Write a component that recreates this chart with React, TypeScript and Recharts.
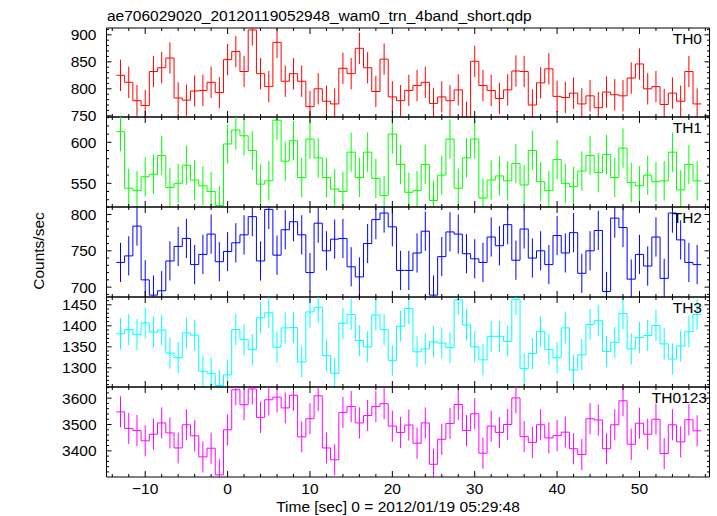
import { ComposedChart, ErrorBar, Line, ReferenceLine, Scatter, XAxis, YAxis } from "recharts";

const title = "ae706029020_20120119052948_wam0_trn_4band_short.qdp";
const xLabel = "Time [sec] 0 = 2012/01/19 05:29:48";
const yLabel = "Counts/sec";

// 1 s bins, first bin centred on -13 s
const firstBin = -13;

const th0 = [
  825, 812, 778, 769, 832, 839, 857, 783, 779, 796, 797, 812, 793, 854, 869, 832, 909, 828,
  804, 886, 814, 828, 814, 767, 800, 777, 772, 838, 828, 875, 839, 795, 855, 785, 778, 797,
  806, 812, 773, 785, 778, 798, 747, 851, 806, 797, 782, 798, 833, 832, 770, 811, 837, 786,
  784, 792, 772, 787, 765, 794, 789, 787, 820, 846, 800, 804, 771, 792, 777, 832, 772,
];
const th1 = [
  613, 544, 541, 558, 561, 584, 545, 550, 572, 554, 547, 540, 523, 598, 615, 608, 590, 549,
  553, 627, 577, 602, 557, 604, 581, 557, 543, 540, 588, 557, 588, 556, 535, 610, 573, 539,
  541, 573, 529, 560, 604, 544, 581, 604, 532, 554, 559, 553, 574, 548, 590, 552, 541, 579,
  550, 546, 565, 584, 563, 585, 557, 593, 551, 547, 560, 552, 553, 588, 542, 573, 553,
];
const th2 = [
  734, 743, 784, 710, 689, 695, 736, 756, 767, 731, 745, 773, 735, 749, 761, 772, 797, 736,
  807, 744, 779, 790, 772, 720, 788, 750, 766, 767, 728, 714, 760, 793, 802, 783, 723, 723,
  747, 777, 689, 742, 776, 773, 746, 739, 734, 769, 757, 786, 737, 780, 740, 750, 731, 771,
  747, 775, 719, 750, 778, 694, 795, 782, 711, 745, 729, 769, 712, 802, 765, 734, 731,
];
const th3 = [
  1381, 1391, 1379, 1407, 1385, 1390, 1335, 1324, 1383, 1378, 1292, 1287, 1258, 1283, 1391,
  1367, 1343, 1419, 1431, 1349, 1395, 1396, 1314, 1433, 1444, 1329, 1287, 1406, 1427, 1365,
  1350, 1426, 1391, 1317, 1399, 1441, 1338, 1345, 1362, 1359, 1348, 1462, 1402, 1350, 1319,
  1375, 1375, 1363, 1463, 1298, 1334, 1387, 1344, 1324, 1395, 1295, 1331, 1403, 1412, 1339,
  1360, 1429, 1345, 1372, 1377, 1401, 1357, 1321, 1352, 1386, 1427,
];
const th0123 = [
  3548, 3485, 3477, 3438, 3463, 3506, 3468, 3411, 3499, 3457, 3377, 3410, 3309, 3480, 3632,
  3575, 3635, 3527, 3594, 3604, 3563, 3611, 3453, 3522, 3609, 3411, 3366, 3546, 3568, 3506,
  3534, 3568, 3579, 3494, 3470, 3498, 3429, 3506, 3349, 3444, 3504, 3576, 3477, 3541, 3391,
  3494, 3470, 3500, 3601, 3454, 3432, 3499, 3449, 3458, 3471, 3408, 3386, 3522, 3517, 3408,
  3499, 3590, 3425, 3505, 3463, 3520, 3390, 3499, 3434, 3518, 3476,
];

const xMajor = [-10, 0, 10, 20, 30, 40, 50];
const xDomain: [number, number] = [-14.7, 58.5];

const FONT = "'Liberation Sans', Arial, sans-serif";
const FS = 15.5;
const W = 717;
const PLOT_LEFT = 106.5;
const PLOT_RIGHT = 709.5;
const PAD = 12;

const range = (a: number, b: number, s: number) => {
  const out: number[] = [];
  for (let v = a; v <= b + 1e-9; v += s) out.push(Math.round(v * 100) / 100);
  return out;
};

const panels = [
  { name: "TH0", color: "#ff0000", values: th0, err: 29, top: 27.5, bottom: 116.5, domain: [747.8, 912.6], ticks: range(750, 910, 10), major: [750, 800, 850, 900], labelX: 702 },
  { name: "TH1", color: "#00ff00", values: th1, err: 24, top: 116.5, bottom: 206.5, domain: [521.1, 630.9], ticks: range(530, 630, 10), major: [550, 600], labelX: 702 },
  { name: "TH2", color: "#0000ff", values: th2, err: 27, top: 206.5, bottom: 296.5, domain: [686.4, 810.3], ticks: range(690, 810, 10), major: [700, 750, 800], labelX: 702 },
  { name: "TH3", color: "#00ffff", values: th3, err: 37, top: 296.5, bottom: 386.5, domain: [1254.3, 1468.6], ticks: range(1260, 1460, 10), major: [1300, 1350, 1400, 1450], labelX: 702 },
  { name: "TH0123", color: "#ff00ff", values: th0123, err: 59, top: 386.5, bottom: 476.5, domain: [3300.7, 3642.4], ticks: range(3320, 3640, 20), major: [3400, 3500, 3600], labelX: 707 },
];

const fmtNum = (v: number) => (v < 0 ? "\u2212" + Math.abs(v) : String(v));

function Panel({ p, last }: { p: (typeof panels)[number]; last: boolean }) {
  // stepped outline: bin edge + bin centre for every bin, closing edge at the end
  const rows: { t: number; v: number }[] = [];
  p.values.forEach((v, i) => {
    const t = firstBin + i;
    rows.push({ t: t - 0.5, v });
    rows.push({ t, v });
  });
  rows.push({ t: firstBin + p.values.length - 0.5, v: p.values[p.values.length - 1] });
  const centres = p.values.map((v, i) => ({ t: firstBin + i, v, e: p.err }));
  const [lo, hi] = p.domain;
  // error bars stop at the panel frame
  const errRange = (d: { v: number; e: number }) => [
    Math.max(0, Math.min(d.e, d.v - lo)),
    Math.max(0, Math.min(d.e, hi - d.v)),
  ];

  const h = p.bottom - p.top;
  const bottomPad = last ? 40 : PAD;
  const plotTop = PAD;

  return (
    <div style={{ position: "absolute", left: 0, top: p.top - PAD }}>
      <ComposedChart
        width={W}
        height={h + PAD + bottomPad}
        data={rows}
        margin={{ top: PAD, bottom: bottomPad - 1, left: PLOT_LEFT - 1, right: W - PLOT_RIGHT }}
      >
        <XAxis
          dataKey="t"
          type="number"
          domain={xDomain}
          allowDataOverflow
          ticks={range(-14, 58, 2)}
          interval={0}
          height={1}
          tickSize={0}
          tickMargin={0}
          axisLine={{ stroke: "#000" }}
          tickLine={false}
          tick={(t: any) => {
            const major = xMajor.includes(t.payload.value);
            const len = major ? 6 : 3;
            return (
              <g>
                <line x1={t.x} x2={t.x} y1={t.y} y2={t.y - len} stroke="#000" />
                <line x1={t.x} x2={t.x} y1={plotTop} y2={plotTop + len} stroke="#000" />
                {last && major && (
                  <text x={t.x} y={t.y + 17} textAnchor="middle" fontFamily={FONT} fontSize={FS} fill="#000">
                    {fmtNum(t.payload.value)}
                  </text>
                )}
              </g>
            );
          }}
        />
        <YAxis
          dataKey="v"
          type="number"
          domain={p.domain}
          allowDataOverflow
          ticks={p.ticks}
          interval={0}
          width={1}
          tickSize={0}
          tickMargin={0}
          axisLine={{ stroke: "#000" }}
          tickLine={false}
          tick={(t: any) => {
            const major = p.major.includes(t.payload.value);
            const len = major ? 5 : 2.5;
            return (
              <g>
                <line x1={t.x} x2={t.x + len} y1={t.y} y2={t.y} stroke="#000" />
                <line x1={PLOT_RIGHT} x2={PLOT_RIGHT - len} y1={t.y} y2={t.y} stroke="#000" />
                {major && (
                  <text x={t.x - 10} y={t.y + 5.5} textAnchor="end" fontFamily={FONT} fontSize={FS} fill="#000">
                    {t.payload.value}
                  </text>
                )}
              </g>
            );
          }}
        />
        <ReferenceLine y={p.domain[1]} stroke="#000" />
        <ReferenceLine x={xDomain[1]} stroke="#000" />
        <Line
          dataKey="v"
          type="stepAfter"
          stroke={p.color}
          strokeWidth={1}
          dot={false}
          activeDot={false}
          isAnimationActive={false}
        />
        <Scatter data={centres} dataKey="v" shape={() => <g />} isAnimationActive={false}>
          <ErrorBar dataKey={errRange as any} direction="y" width={0} stroke={p.color} strokeWidth={1} isAnimationActive={false} />
        </Scatter>
      </ComposedChart>
    </div>
  );
}

export default function App() {
  return (
    <div style={{ position: "absolute", left: 0, top: 0, width: W, height: 516, background: "#fff", overflow: "hidden" }}>
      {panels.map((p, i) => (
        <Panel key={p.name} p={p} last={i === panels.length - 1} />
      ))}
      <svg width={W} height={516} style={{ position: "absolute", left: 0, top: 0, pointerEvents: "none" }}>
        <text x={107} y={20.7} fontFamily={FONT} fontSize={FS} fill="#000">
          {title}
        </text>
        {panels.map((p) => (
          <text key={p.name} x={p.labelX} y={p.top + 16.5} textAnchor="end" fontFamily={FONT} fontSize={FS} fill="#000">
            {p.name}
          </text>
        ))}
        <text x={398} y={511.5} textAnchor="middle" fontFamily={FONT} fontSize={FS} fill="#000">
          {xLabel}
        </text>
        <text
          x={43.5}
          y={251}
          transform="rotate(-90 43.5 251)"
          textAnchor="middle"
          fontFamily={FONT}
          fontSize={FS}
          fill="#000"
        >
          {yLabel}
        </text>
      </svg>
    </div>
  );
}
